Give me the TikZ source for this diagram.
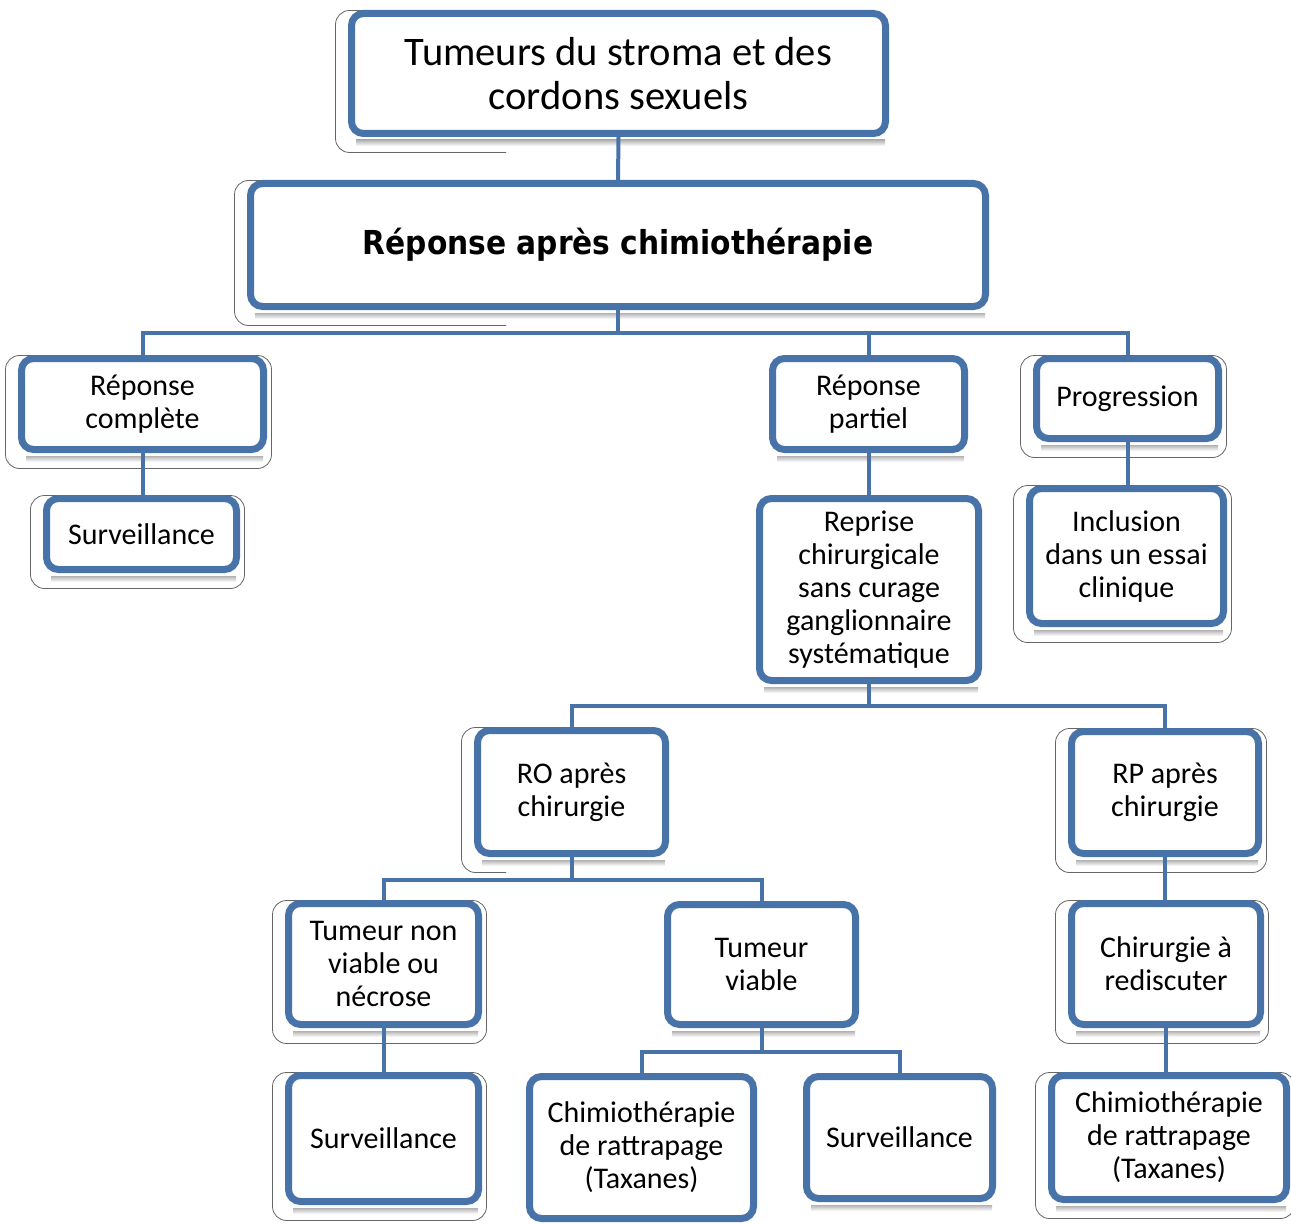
\documentclass[tikz,border=0pt]{standalone}
\usepackage{fontspec}
\usepackage{graphicx}
\setmainfont{Carlito}
\newfontfamily\headfont{DejaVu Sans}
\usetikzlibrary{backgrounds,calc}
\definecolor{boxblue}{RGB}{72,115,168}

\tikzset{
  box/.style={draw=boxblue, line width=7pt, rounded corners=12pt, fill=white,
    inner sep=0pt, align=center, text=black, font=\fontsize{30}{33}\selectfont},
  link/.style={draw=boxblue, line width=4pt},
  shadowline/.style={draw=black!60, line width=0.8pt, fill=white, rounded corners=14pt},
}

% \bx[options]{name}{left}{top}{right}{bottom}{text}: outer edges of the blue frame
\newcommand\bx[7][]{%
  \node[box, #1, minimum width={(#5-#3-7)*1pt}, minimum height={(#6-#4-7)*1pt}]
    (#2) at ({(#3+#5)/2},{(#4+#6)/2}) {#7};}

\begin{document}
\begin{tikzpicture}[x=1pt,y=-1pt]
\useasboundingbox (0,0) rectangle (1291,1225);

% boxes
\bx[font=\fontsize{40.5}{44}\selectfont]{top}{348}{10}{889}{137}{Tumeurs du stroma et des\\cordons sexuels}
\bx[font=\headfont\bfseries\fontsize{33}{36}\selectfont]{resp}{247}{180}{989}{310}{\scalebox{0.9}[1]{Réponse après chimiothérapie}}
\bx{rc}{18}{355}{267}{453}{Réponse\\complète}
\bx{survA}{43}{495}{240}{573}{Surveillance}
\bx{rpart}{769}{355}{968}{453}{Réponse\\partiel}
\bx{prog}{1033}{355}{1222}{442}{Progression}
\bx{repr}{756}{495}{982}{684}{Reprise\\chirurgicale\\sans curage\\ganglionnaire\\systématique}
\bx{incl}{1026}{485}{1227}{627}{Inclusion\\dans un essai\\clinique}
\bx{ro}{474}{727}{669}{857}{RO après\\chirurgie}
\bx{rpc}{1068}{728}{1262}{857}{RP après\\chirurgie}
\bx{tnv}{285}{900}{482}{1028}{Tumeur non\\viable ou\\nécrose}
\bx{tv}{664}{901}{859}{1028}{Tumeur\\viable}
\bx{chr}{1068}{900}{1264}{1028}{Chirurgie à\\rediscuter}
\bx{survB}{285}{1072}{482}{1205}{Surveillance}
\bx{chimA}{526}{1073}{757}{1222}{Chimiothérapie\\de rattrapage\\(Taxanes)}
\bx{survC}{803}{1073}{996}{1202}{Surveillance}
\bx{chimB}{1048}{1072}{1290}{1203}{Chimiothérapie\\de rattrapage\\(Taxanes)}

% junctions of the branching connectors
\coordinate (j1) at (618,333);
\coordinate (j2) at (869,706);
\coordinate (j3) at (571,880);
\coordinate (j4) at (761,1052);

% connectors
\draw[link] (top.south) -- (resp.north);
\draw[link] (resp.south) -- (j1);
\draw[link] (rc.north) |- (j1) -| (prog.north);
\draw[link] (rpart.north) -- (rpart.north |- j1);
\draw[link] (rc.south) -- (rc.south |- survA.north);
\draw[link] (rpart.south) -- (rpart.south |- repr.north);
\draw[link] (prog.south) -- (prog.south |- incl.north);
\draw[link] (repr.south) -- (repr.south |- j2);
\draw[link] (ro.north) |- (j2) -| (rpc.north);
\draw[link] (ro.south) -- (ro.south |- j3);
\draw[link] (tnv.north) |- (j3) -| (tv.north);
\draw[link] (tnv.south) -- (tnv.south |- survB.north);
\draw[link] (tv.south) -- (tv.south |- j4);
\draw[link] (chimA.north) |- (j4) -| (survC.north);
\draw[link] (rpc.south) -- (rpc.south |- chr.north);
\draw[link] (chr.south) -- (chr.south |- chimB.north);

% drop shadows behind the boxes
\begin{scope}[on background layer]
  \begin{scope}
    \clip (0,0) rectangle (506,1225) (1005,0) rectangle (1291,1225);
    \foreach \n in {top,resp,rc,survA,prog,incl,ro,rpc,tnv,chr,survB,chimB}{
      \draw[shadowline] ([shift={(-12.5pt,-0.5pt)}]\n.north west)
        rectangle ([shift={(4.5pt,-15.5pt)}]\n.south east);
    }
  \end{scope}
  \foreach \n in {top,resp,rc,survA,rpart,prog,repr,incl,ro,rpc,tnv,tv,chr,survB,chimA,survC,chimB}{
    \shade[top color=black!30, bottom color=white]
      ([shift={(8pt,-3pt)}]\n.south west) rectangle ([shift={(-4pt,-9pt)}]\n.south east);
  }
\end{scope}
\end{tikzpicture}
\end{document}
